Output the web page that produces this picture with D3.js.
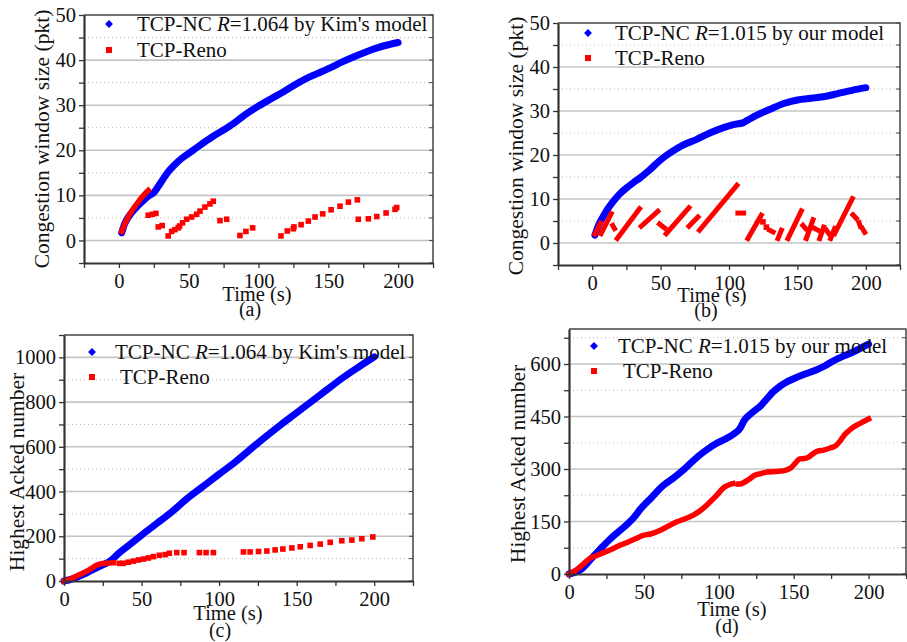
<!DOCTYPE html>
<html>
<head>
<meta charset="utf-8">
<script src="https://cdn.jsdelivr.net/npm/d3@7"></script>
<style>
body { margin: 0; background: #fff; }
</style>
</head>
<body>
<div id="chart"></div>
<script>
// ---- data: [time (s), value] ----

// (a) congestion window, TCP-NC R=1.064 by Kim's model
const cwndKimNC = [[2,1.7],[4,3.6],[7,5.3],[10,6.5],[13,7.5],[17,8.7],[21,9.8],[25,10.6],[28,11.9],[31,13.3],[35,15.1],[40,16.8],[45,18.2],[50,19.3],[58,21.1],[67,23],[75,24.5],[82,25.9],[90,27.8],[100,29.8],[110,31.6],[118,33],[126,34.5],[134,35.9],[142,37],[150,38.1],[160,39.6],[168,40.7],[176,41.7],[185,42.7],[193,43.4],[200,43.9]];
// (a) TCP-Reno: dense start, then single samples
const cwndRenoA = [
  [[2,2],[4,3.5],[6,4.8],[8,5.9],[10,6.9],[12,7.8],[14,8.6],[16,9.4],[18,10.1],[20,10.8],[21,11.1]],
  [[21,5.6]],[[24,5.8]],[[26.5,6.0]],[[28.2,3.0]],[[31,3.3]],[[35.3,1.0]],[[37.8,2.0]],[[40.1,2.4]],[[42.5,2.8]],[[43.5,3.2]],
  [[45.6,3.9]],[[48.5,4.7]],[[52.1,5.2]],[[55.7,5.8]],[[58.1,6.5]],[[61.6,7.4]],[[65.2,8.1]],[[67.6,8.7]],[[72.4,4.4]],[[77.2,4.7]],
  [[86.7,1.1]],[[91,2.0]],[[95.8,2.8]],[[116.1,1.0]],[[120.6,2.1]],[[124.9,2.6]],[[125.4,3.0]],[[130.5,3.5]],[[135.7,4.3]],[[140.5,5.2]],
  [[146,5.9]],[[152,6.8]],[[158.4,7.6]],[[164.4,8.5]],[[170.8,9.0]],[[171.5,4.7]],[[178.7,4.8]],[[184.7,5.3]],[[191.4,6.1]],[[197.8,6.9]],[[199,7.3]]
];

// (b) congestion window, TCP-NC R=1.015 by our model
const cwndOurNC = [[2,1.8],[5,4.3],[8,6.0],[11,7.6],[15,9.3],[20,11.1],[25,12.5],[30,13.7],[35,14.8],[42,16.6],[50,18.9],[58,20.7],[66,22.2],[76,23.5],[86,25],[95,26.1],[100,26.6],[105,27],[110,27.3],[113,27.8],[120,29],[130,30.4],[140,31.7],[150,32.5],[160,32.9],[170,33.3],[180,34],[190,34.7],[200,35.3]];
// (b) TCP-Reno sawtooth pieces
const cwndRenoB = [
  [[2,2],[6,4.5]],[[6.5,2.1],[13.9,6.7]],[[15,4.0],[16.3,3.3]],[[18.3,1.0],[34.6,7.8]],[[35.8,3.8],[48,7.2]],
  [[49.2,4.3],[52.9,3.4]],[[54.1,2.1],[70.7,8.0]],[[70.7,3.8],[77.3,5.9]],[[78.4,2.9],[105.8,13.1]],[[106.5,6.8],[110.7,6.8]],
  [[113.8,1.0],[123.6,6.3]],[[124.8,4.8]],[[127.3,3.6]],[[129.7,2.9],[132.2,2.5]],[[135.8,1.0],[138.3,2.9]],
  [[143.1,1.0],[152.9,7.3]],[[154,4.0],[156,3.3]],[[156.5,1.0],[161.4,5.3]],[[162.6,3.3],[165,2.9]],[[166.3,1.0],[169.2,3.6]],
  [[171.2,2.9],[173.1,2.1]],[[174.3,1.0],[177.2,3.3]],[[177.2,2.1],[190.2,10.1]],[[190.6,6.4],[193.1,5.6]],[[195.1,4.6],[196,3.8]],
  [[197.5,3.3],[199.2,2.4]]
];

// (c) highest acked number, Kim's model
const ackKimNC = [[0,0],[5,8],[10,22],[15,38],[20,55],[25,72],[30,90],[35,122],[40,150],[50,205],[60,258],[70,312],[80,372],[90,425],[100,478],[110,530],[120,588],[130,645],[140,700],[150,752],[160,805],[170,858],[180,910],[190,957],[200,1002]];
const ackRenoC = [
  [[0,0],[5,12],[10,28],[15,45],[18,58],[21,70],[24,77],[28,80],[32,82]],
  [[35.7,79]],[[38.2,79]],[[41.5,84]],[[44.7,89]],[[48,94]],[[51.2,98]],[[54.4,103]],[[57.6,109]],[[61.5,115]],[[65.2,118]],
  [[67.9,124]],[[72.7,127]],[[77.4,127]],[[87.3,127]],[[91.6,127]],[[96.3,127]],[[115.7,130]],[[120,130]],[[125.4,132]],[[130.8,134]],
  [[136.1,139]],[[141.1,143]],[[146.9,148]],[[152.3,153]],[[158.7,159]],[[165.2,165]],[[171.6,173]],[[179.1,180]],[[185.6,183]],[[192,189]],[[199.1,197]]
];

// (d) highest acked number, our model
const ackOurNC = [[0,0],[4,5],[8,13],[12,30],[16,49],[21,72],[27,98],[32,117],[37,135],[43,160],[48,187],[55,218],[63,253],[70,275],[76,296],[82,320],[87,339],[92,355],[98,372],[104,385],[110,400],[114,415],[117,439],[122,460],[128,481],[132,500],[136,519],[141,537],[145,548],[150,558],[158,572],[165,583],[171,595],[177,610],[184,624],[190,635],[196,648],[200,657]];
const ackRenoD = [
  [[0,0],[5,12],[10,30],[14,45],[18,52],[22,59],[28,70],[33,80],[37,87],[44,100],[50,111],[55,115],[61,125],[66,136],[72,149],[77,157],[83,168],[88,182],[93,201],[98,222],[104,249],[107,255],[109.4,258]],
  [[113,257],[115,258],[120,270],[124,282],[128,287],[132,291]],
  [[135,292],[141,294],[145,297],[148,303],[151,316],[154,329],[157,330],[160,334],[163,344],[166,351],[170,354],[175,361],[178,366],[181,380],[184,398],[187,410],[190,420],[195,432],[200,443]]
];

// ticks
const xTicksNeg = [-25,0,25,50,75,100,125,150,175,200,225];
const xTicksPos = [0,25,50,75,100,125,150,175,200,225];
const xLabels = [0,50,100,150,200];
const cwndMajor = [0,10,20,30,40,50], cwndMinor = [-5,5,15,25,35,45];
const ackMajorC = [0,200,400,600,800,1000], ackMinorC = [100,300,500,700,900,1100];
const ackMajorD = [0,150,300,450,600], ackMinorD = [75,225,375,525,675];

const blue = "#0000ff", red = "#ff0000";
const serif = '"Liberation Serif", "Times New Roman", "DejaVu Serif", serif';

const svg = d3.select("#chart").append("svg")
    .attr("width", 907)
    .attr("height", 642);

function drawPanel(p) {
    let x = d3.scaleLinear().domain(p.xDomain).range([p.left, p.right]);
    let y = d3.scaleLinear().domain(p.yDomain).range([p.bottom, p.top]);
    let g = svg.append("g");

    // horizontal grid: solid at major, dotted at minor
    g.selectAll(".gmaj")
        .data(p.yMajor.filter(v => v > p.yDomain[0] && v < p.yDomain[1]))
        .join("line")
        .attr("x1", p.left).attr("x2", p.right)
        .attr("y1", d => y(d)).attr("y2", d => y(d))
        .attr("stroke", "#c4c4c4").attr("stroke-width", 1.6);
    g.selectAll(".gmin")
        .data(p.yMinor.filter(v => v > p.yDomain[0] && v < p.yDomain[1]))
        .join("line")
        .attr("x1", p.left).attr("x2", p.right)
        .attr("y1", d => y(d)).attr("y2", d => y(d))
        .attr("stroke", "#b8b8b8").attr("stroke-width", 1)
        .attr("stroke-dasharray", "1,3");

    let line = d3.line().x(d => x(d[0])).y(d => y(d[1])).curve(d3.curveMonotoneX);

    // TCP-NC: dense diamonds shown as a thick band
    g.append("path")
        .attr("d", line(p.nc))
        .attr("fill", "none")
        .attr("stroke", blue)
        .attr("stroke-width", 7)
        .attr("stroke-linecap", "round")
        .attr("stroke-linejoin", "round");

    // TCP-Reno: runs of squares
    p.reno.forEach(run => {
        if (run.length > 1) {
            g.append("path")
                .attr("d", line(run))
                .attr("fill", "none")
                .attr("stroke", red)
                .attr("stroke-width", p.renoWidth)
                .attr("stroke-linecap", "square")
                .attr("stroke-linejoin", "round");
        } else {
            g.append("rect")
                .attr("x", x(run[0][0]) - 2.8)
                .attr("y", y(run[0][1]) - 2.8)
                .attr("width", 5.6).attr("height", 5.6)
                .attr("fill", red);
        }
    });

    // frame top / right
    g.append("path")
        .attr("d", `M${p.left},${p.top}H${p.right}V${p.bottom}`)
        .attr("fill", "none").attr("stroke", "#444").attr("stroke-width", 1.5);

    // right side inner ticks
    let yTicks = p.yMajor.concat(p.yMinor).filter(v => v >= p.yDomain[0] && v <= p.yDomain[1]);
    g.selectAll(".rt").data(yTicks).join("line")
        .attr("x1", p.right - 4).attr("x2", p.right)
        .attr("y1", d => y(d)).attr("y2", d => y(d))
        .attr("stroke", "#444").attr("stroke-width", 1);

    // left axis
    let yAxis = d3.axisLeft(y)
        .tickValues(yTicks.sort((a, b) => a - b))
        .tickSize(5).tickSizeOuter(0).tickPadding(3)
        .tickFormat(v => p.yMajor.includes(v) ? v : "");
    let ya = g.append("g").attr("transform", `translate(${p.left},0)`).call(yAxis);
    ya.select(".domain").attr("stroke", "#333").attr("stroke-width", 2.2);
    ya.selectAll(".tick line").attr("stroke", "#333").attr("stroke-width", 1.3);

    // bottom axis
    let xAxis = d3.axisBottom(x)
        .tickValues(p.xTicks)
        .tickSize(5).tickSizeOuter(0).tickPadding(5)
        .tickFormat(v => xLabels.includes(v) ? v : "");
    let xa = g.append("g").attr("transform", `translate(0,${p.bottom})`).call(xAxis);
    xa.select(".domain").attr("stroke", "#333").attr("stroke-width", 2.2);
    xa.selectAll(".tick line").attr("stroke", "#333").attr("stroke-width", 1.3);

    // axis titles
    g.append("text")
        .attr("transform", `translate(${p.yTitle[0]},${p.yTitle[1]}) rotate(-90)`)
        .attr("text-anchor", "middle")
        .style("font-size", "21.5px")
        .text(p.yLabel);
    g.append("text")
        .attr("x", p.xTitle[0]).attr("y", p.xTitle[1])
        .attr("text-anchor", "middle")
        .style("font-size", "20.5px")
        .text("Time (s)");
    g.append("text")
        .attr("x", p.tag[0]).attr("y", p.tag[1])
        .attr("text-anchor", "middle")
        .style("font-size", "20px")
        .text(p.tag[2]);

    // legend
    let lg = g.append("g");
    lg.append("rect")
        .attr("x", -2.8).attr("y", -2.8)
        .attr("width", 5.6).attr("height", 5.6)
        .attr("transform", `translate(${p.leg[0]},${p.leg[1]}) rotate(45)`)
        .attr("fill", blue);
    let t1 = lg.append("text")
        .attr("x", p.leg[2]).attr("y", p.leg[1] + 6.5)
        .style("font-size", "21px");
    t1.append("tspan").text("TCP-NC ");
    t1.append("tspan").style("font-style", "italic").text("R");
    t1.append("tspan").text(p.ncLegend);
    lg.append("rect")
        .attr("x", p.leg[0] - 3).attr("y", p.leg[3] - 3)
        .attr("width", 6).attr("height", 6)
        .attr("fill", red);
    lg.append("text")
        .attr("x", p.leg[4]).attr("y", p.leg[3] + 6.5)
        .style("font-size", "21px")
        .text("TCP-Reno");
}

drawPanel({
    left: 84, right: 433, top: 15, bottom: 263,
    xDomain: [-25, 225], yDomain: [-5, 50], xTicks: xTicksNeg,
    yMajor: cwndMajor, yMinor: cwndMinor,
    nc: cwndKimNC, reno: cwndRenoA, renoWidth: 5.5,
    yLabel: "Congestion window size (pkt)", yTitle: [49, 139],
    xTitle: [257, 301], tag: [250, 316, "(a)"],
    leg: [109, 24, 137, 50, 137], ncLegend: "=1.064 by Kim's model"
});
drawPanel({
    left: 558, right: 900, top: 23, bottom: 265,
    xDomain: [-25, 225], yDomain: [-5, 50], xTicks: xTicksNeg,
    yMajor: cwndMajor, yMinor: cwndMinor,
    nc: cwndOurNC, reno: cwndRenoB, renoWidth: 5,
    yLabel: "Congestion window size (pkt)", yTitle: [523, 146],
    xTitle: [712, 302], tag: [706, 317, "(b)"],
    leg: [588, 33, 615, 58, 615], ncLegend: "=1.015 by our model"
});
drawPanel({
    left: 64, right: 413, top: 335, bottom: 581,
    xDomain: [0, 225], yDomain: [0, 1100], xTicks: xTicksPos,
    yMajor: ackMajorC, yMinor: ackMinorC,
    nc: ackKimNC, reno: ackRenoC, renoWidth: 5.5,
    yLabel: "Highest Acked number", yTitle: [24, 472],
    xTitle: [228, 620], tag: [220, 637, "(c)"],
    leg: [92, 352, 115, 377, 120], ncLegend: "=1.064 by Kim's model"
});
drawPanel({
    left: 569, right: 906, top: 329, bottom: 574,
    xDomain: [0, 225], yDomain: [0, 700], xTicks: xTicksPos,
    yMajor: ackMajorD, yMinor: ackMinorD,
    nc: ackOurNC, reno: ackRenoD, renoWidth: 5.5,
    yLabel: "Highest Acked number", yTitle: [525, 464],
    xTitle: [732, 616], tag: [727, 633, "(d)"],
    leg: [594, 346, 618, 371, 623], ncLegend: "=1.015 by our model"
});

// serif text everywhere (overrides the axis default font)
svg.selectAll("text")
    .style("font-family", serif)
    .attr("fill", "#111");
svg.selectAll(".tick text").style("font-size", "20.5px");
</script>
</body>
</html>
